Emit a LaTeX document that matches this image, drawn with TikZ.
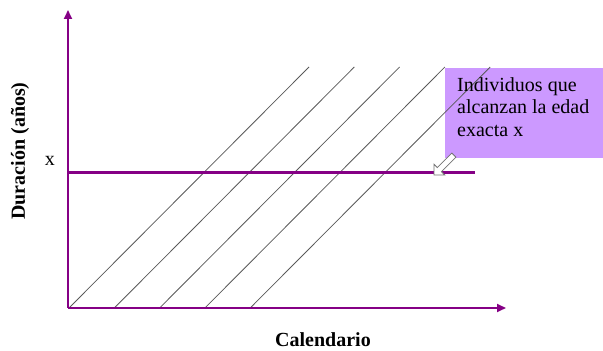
\documentclass[tikz,border=0pt]{standalone}
\usepackage{fontspec}
\setmainfont{Liberation Serif}
\usetikzlibrary{arrows.meta,shapes.arrows}
\definecolor{axispurple}{HTML}{850085}
\definecolor{boxlilac}{HTML}{CC99FF}
\begin{document}
\begin{tikzpicture}[x=1pt,y=1pt,
  axis/.style={draw=axispurple,line width=2.2pt,-{Triangle[length=9pt,width=8pt]}},
  level/.style={draw=axispurple,line width=3pt},
  life/.style={draw=black!65,line width=0.8pt},
  lbl/.style={font=\fontsize{20}{22}\selectfont\bfseries,inner sep=0pt}]
\useasboundingbox (0,0) rectangle (603,351);
% coordinates (y flipped: 351 - y)
\coordinate (O) at (68,43);
\coordinate (ytop) at (68,341);
\coordinate (xend) at (506,43);
\coordinate (hl) at (68,178);
\coordinate (hr) at (475,178);
% box
\node[fill=boxlilac,anchor=north west,minimum width=160pt,minimum height=90pt,inner sep=0pt] (box) at (445,283) {};
% lifelines
\foreach \k in {0,...,4}{
  \coordinate (b\k) at ({69+45.3*\k},43);
  \coordinate (t\k) at ({309+45.3*\k},284);
  \draw[life] (b\k) -- (t\k);
}
\node[anchor=north west,align=left,inner sep=0pt,font=\fontsize{20}{22.5}\selectfont] (txt) at (457,274) {Individuos que\\alcanzan la edad\\exacta x};
% axes
\draw[axis] (O) -- (ytop);
\draw[axis] (O) -- (xend);
\draw[level] (hl) -- (hr);
% block arrow
\node[single arrow,draw=black!55,fill=white,line width=0.8pt,minimum height=28pt,minimum width=15pt,single arrow head extend=3pt,inner sep=1.5pt,rotate=-135] (arr) at (445,187) {};
% labels
\node[lbl] (ylab) at (20,200) [rotate=90] {Duración (años)};
\node[inner sep=0pt,font=\fontsize{20}{22}\selectfont] (xl) at (50,190) {x};
\node[lbl] (xlab) at (323,11) {Calendario};
\end{tikzpicture}
\end{document}
